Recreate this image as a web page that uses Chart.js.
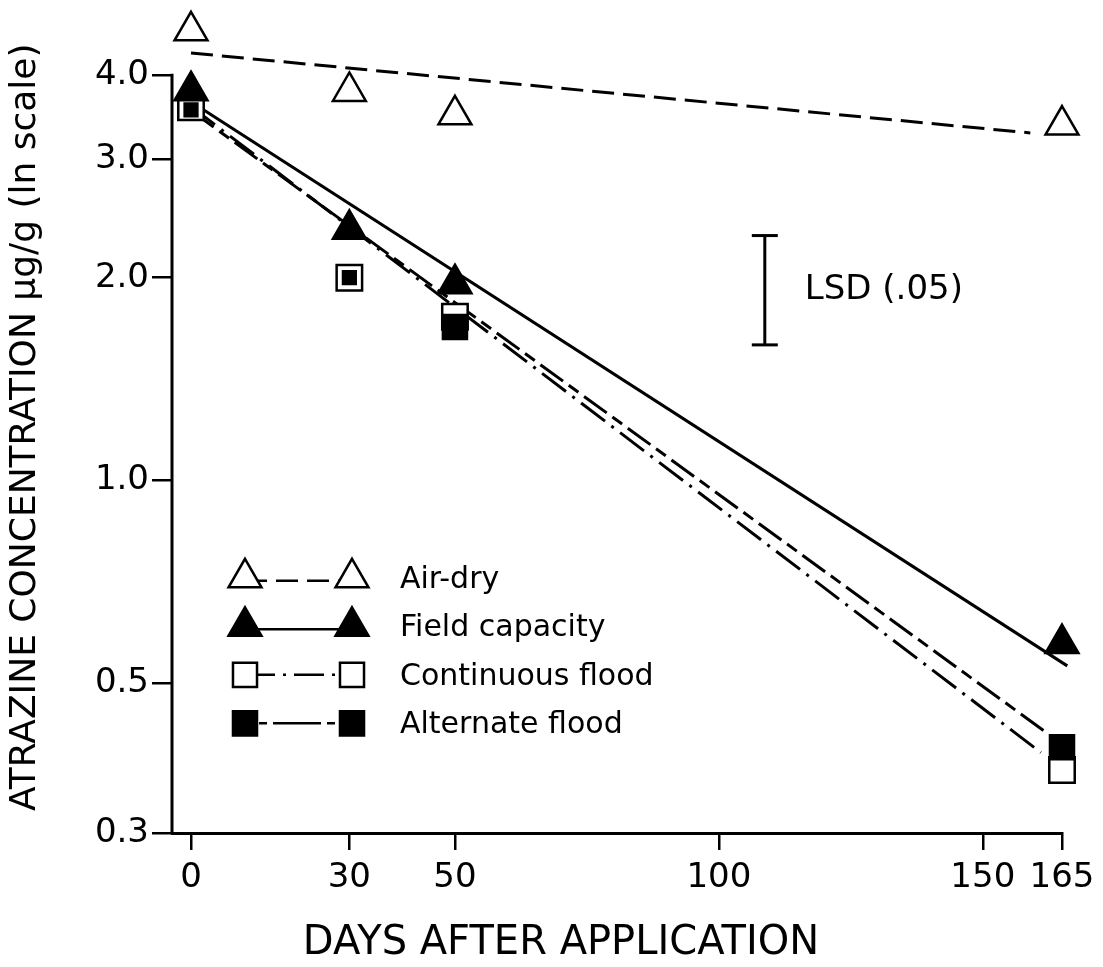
<!DOCTYPE html>
<html><head><meta charset="utf-8">
<script src="https://cdn.jsdelivr.net/npm/chart.js@4.4.0/dist/chart.umd.min.js"></script>
<style>html,body{margin:0;padding:0;background:#fff}#wrap{width:1103px;height:967px}</style>
</head><body><div id="wrap"><canvas id="c" width="1103" height="967"></canvas></div>
<script>
// ---- data ----
const days = [0, 30, 50, 165];
const airDry = [4.65, 3.78, 3.49, 3.37];
const fieldCapacity = [3.79, 2.36, 1.96, 0.573];
const continuousFlood = [3.58, 2.0, 1.75, 0.372];
const alternateFlood = [3.55, 2.0, 1.69, 0.402];

// fitted regression lines (start / end)
const airDryFitDays = [0, 159];
const airDryFit = [4.31, 3.28];
const fieldFitDays = [0, 166];
const fieldFit = [3.65, 0.531];
const contFitDays = [0, 161];
const contFit = [3.59, 0.395];
const altFitDays = [0, 162];
const altFit = [3.54, 0.423];

// LSD (.05) bar
const lsdDay = [108.7, 108.7];
const lsdRange = [1.59, 2.31];

const xTicks = [0, 30, 50, 100, 150, 165];
const yTicks = [0.3, 0.5, 1, 2, 3, 4];
const yAxisTop = 4;
const seriesLabels = ['Air-dry', 'Field capacity', 'Continuous flood', 'Alternate flood'];

const pts = (xs, ys) => xs.map((x, i) => ({x: x, y: ys[i]}));
const FONT = 'DejaVu Sans';

const dashAir = [22, 9];
const dashCont = [30, 8, 3, 8];
const dashAlt = [28, 7, 12, 7];

const datasets = [
  {label: seriesLabels[1], data: pts(days, fieldCapacity), showLine: false, pointStyle: 'triangle',
   pointRadius: 19, backgroundColor: '#000', borderColor: '#000', pointBorderWidth: 2.5, order: 1},
  {label: seriesLabels[0], data: pts(days, airDry), showLine: false, pointStyle: 'triangle',
   pointRadius: 19, backgroundColor: '#fff', borderColor: '#000', pointBorderWidth: 2.5, order: 1},
  {label: seriesLabels[3], data: pts(days, alternateFlood), showLine: false, pointStyle: 'rect',
   pointRadius: [9, 9, 17, 17], backgroundColor: '#000', borderColor: '#000', pointBorderWidth: 2.5, order: 2},
  {label: seriesLabels[2], data: pts(days, continuousFlood), showLine: false, pointStyle: 'rect',
   pointRadius: 18, backgroundColor: '#fff', borderColor: '#000', pointBorderWidth: 2.5, order: 3},
  {label: 'fit air', data: pts(airDryFitDays, airDryFit), borderColor: '#000', borderWidth: 3,
   borderDash: dashAir, pointRadius: 0, order: 10},
  {label: 'fit field', data: pts(fieldFitDays, fieldFit), borderColor: '#000', borderWidth: 3,
   pointRadius: 0, order: 10},
  {label: 'fit cont', data: pts(contFitDays, contFit), borderColor: '#000', borderWidth: 3,
   borderDash: dashCont, pointRadius: 0, order: 10},
  {label: 'fit alt', data: pts(altFitDays, altFit), borderColor: '#000', borderWidth: 3,
   borderDash: dashAlt, pointRadius: 0, order: 10},
  {label: 'LSD', data: pts(lsdDay, lsdRange), borderColor: '#000', borderWidth: 3,
   pointStyle: 'line', pointRadius: 13, pointBorderWidth: 3, order: 10}
];
datasets.forEach(d => { d.clip = false; d.type = 'line'; d.tension = 0; });

function marker(ctx, style, x, y, r, fill) {
  ctx.save();
  ctx.setLineDash([]);
  ctx.lineWidth = 2.5;
  ctx.strokeStyle = '#000';
  ctx.fillStyle = fill;
  ctx.beginPath();
  if (style === 'triangle') {
    let a = 0;
    for (let k = 0; k < 3; k++) {
      const px = x + Math.sin(a) * r, py = y - Math.cos(a) * r;
      if (k === 0) ctx.moveTo(px, py); else ctx.lineTo(px, py);
      a += 2 * Math.PI / 3;
    }
    ctx.closePath();
  } else {
    const s = Math.SQRT1_2 * r;
    ctx.rect(x - s, y - s, 2 * s, 2 * s);
  }
  ctx.fill();
  ctx.stroke();
  ctx.restore();
}

const axisLine = {
  id: 'axisLine',
  beforeDatasetsDraw(chart) {
    const ctx = chart.ctx, a = chart.chartArea, ys = chart.scales.y;
    ctx.save();
    ctx.strokeStyle = '#000';
    ctx.lineWidth = 3;
    ctx.beginPath();
    ctx.moveTo(a.left, ys.getPixelForValue(yAxisTop) - 1);
    ctx.lineTo(a.left, a.bottom + 1);
    ctx.stroke();
    ctx.restore();
  }
};

const extras = {
  id: 'extras',
  afterDraw(chart) {
    const ctx = chart.ctx, a = chart.chartArea;
    const xs = chart.scales.x, ys = chart.scales.y;
    ctx.save();
    ctx.fillStyle = '#000';
    // LSD label
    ctx.font = '34px "' + FONT + '"';
    ctx.textBaseline = 'middle';
    ctx.textAlign = 'left';
    const mid = Math.sqrt(lsdRange[0] * lsdRange[1]);
    ctx.fillText('LSD (.05)', xs.getPixelForValue(lsdDay[0]) + 40, ys.getPixelForValue(mid));
    // x axis title
    ctx.font = '40px "' + FONT + '"';
    ctx.textAlign = 'center';
    ctx.fillText('DAYS AFTER APPLICATION', a.left + 389, a.bottom + 111);
    // legend
    const rows = [
      {style: 'triangle', fill: '#fff', dash: dashAir},
      {style: 'triangle', fill: '#000', dash: []},
      {style: 'rect', fill: '#fff', dash: dashCont},
      {style: 'rect', fill: '#000', dash: [8, 6, 8, 6, 40, 0]}
    ];
    ctx.font = '30px "' + FONT + '"';
    ctx.textAlign = 'left';
    const y0 = ys.getPixelForValue(yAxisTop);
    rows.forEach((row, i) => {
      const y = y0 + 503 + i * 48.5;
      const x1 = a.left + 73, x2 = a.left + 180;
      ctx.save();
      ctx.lineWidth = 2.5;
      ctx.strokeStyle = '#000';
      ctx.setLineDash(row.dash);
      ctx.beginPath();
      ctx.moveTo(x1, y + (row.style === 'triangle' ? 3 : 0));
      ctx.lineTo(x2, y + (row.style === 'triangle' ? 3 : 0));
      ctx.stroke();
      ctx.restore();
      const r = row.style === 'triangle' ? 19 : 17;
      marker(ctx, row.style, x1, y, r, row.fill);
      marker(ctx, row.style, x2, y, r, row.fill);
      ctx.fillStyle = '#000';
      ctx.fillText(seriesLabels[i], a.left + 228, y + 2);
    });
    ctx.restore();
  }
};

new Chart(document.getElementById('c'), {
  type: 'line',
  data: {datasets: datasets},
  plugins: [axisLine, extras],
  options: {
    responsive: false,
    devicePixelRatio: 1,
    animation: false,
    events: [],
    layout: {padding: {top: 18.4, right: 41, left: 0, bottom: 0}},
    plugins: {legend: {display: false}, tooltip: {enabled: false}},
    scales: {
      x: {
        type: 'linear', min: -3.6, max: 165,
        afterBuildTicks: s => { s.ticks = xTicks.map(v => ({value: v})); },
        afterFit: s => { s.height = 134; },
        ticks: {color: '#000', font: {family: FONT, size: 34}, padding: 8, maxRotation: 0,
                autoSkip: false, callback: v => String(v)},
        grid: {drawOnChartArea: false, drawTicks: true, tickLength: 17, color: '#000', lineWidth: 2.5},
        border: {display: true, color: '#000', width: 3}
      },
      y: {
        type: 'logarithmic', min: 0.3, max: 4.8,
        afterBuildTicks: s => { s.ticks = yTicks.map(v => ({value: v})); },
        afterFit: s => { s.width = 172; s.paddingTop = 0; s.paddingBottom = 0; },
        ticks: {color: '#000', font: {family: FONT, size: 34}, padding: 3,
                callback: v => Number(v).toFixed(1)},
        grid: {drawOnChartArea: false, drawTicks: true, tickLength: 20, color: '#000', lineWidth: 2.5},
        border: {display: false},
        title: {display: true, text: 'ATRAZINE CONCENTRATION μg/g (ln scale)', color: '#000',
                font: {family: FONT, size: 36}, padding: {top: 4, bottom: 0}}
      }
    }
  }
});
</script></body></html>
